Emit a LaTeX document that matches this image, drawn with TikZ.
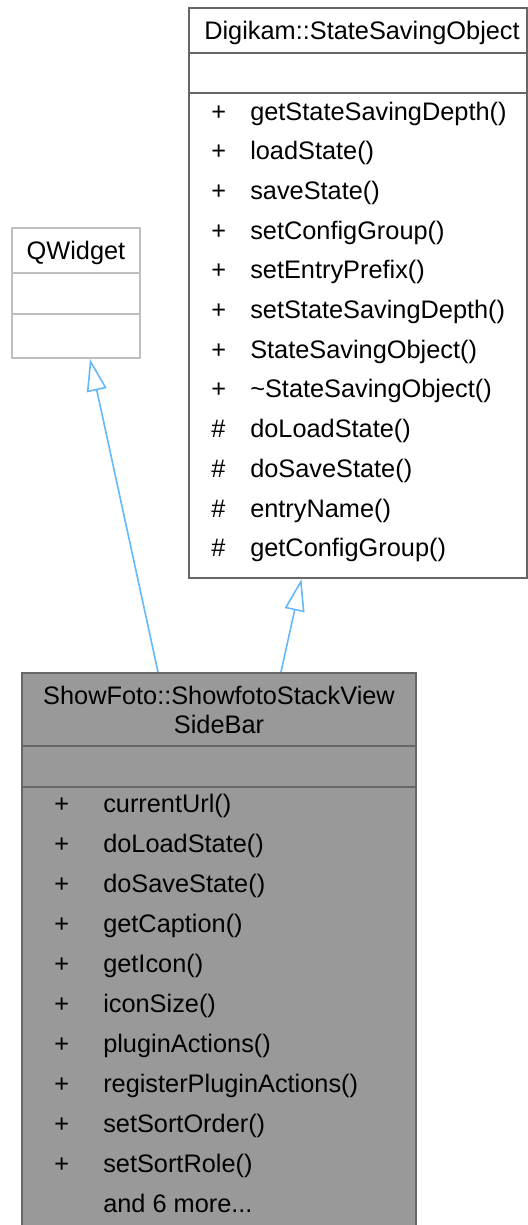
\documentclass[tikz,border=0pt]{standalone}
\usepackage{fontspec}
\setmainfont{Liberation Sans}
\usetikzlibrary{arrows.meta}
\definecolor{edgeblue}{HTML}{63B8FF}
\definecolor{boxgray}{HTML}{666666}
\definecolor{lightborder}{HTML}{BFBFBF}
\definecolor{fillgray}{HTML}{999999}
\begin{document}
\begin{tikzpicture}[x=0.75pt,y=-0.75pt,
  txt/.style={inner sep=0pt,anchor=base west,font=\fontsize{19}{22}\selectfont},
  ttl/.style={inner sep=0pt,anchor=base,font=\fontsize{19}{22}\selectfont,align=center},
  umlbox/.style={draw=boxgray,line width=1.5pt,inner sep=0pt,fill=white},
  inherit/.style={draw=edgeblue,line width=1.2pt,-{Triangle[open,length=24pt,width=15pt,line width=1.2pt]}}
]
\useasboundingbox (0,0) rectangle (528,1225);
% Digikam::StateSavingObject
\node[umlbox,minimum width=253.5pt,minimum height=427.5pt] (dk) at (358,293) {};
\draw[boxgray,line width=1.5pt] (dk.west |- 0,53) -- (dk.east |- 0,53);
\draw[boxgray,line width=1.5pt] (dk.west |- 0,93) -- (dk.east |- 0,93);
\node[ttl] (dkt) at (362,39) {Digikam::StateSavingObject};
\foreach \s/\n [count=\i from 0] in {+/getStateSavingDepth(),+/loadState(),+/saveState(),+/setConfigGroup(),+/setEntryPrefix(),+/setStateSavingDepth(),+/StateSavingObject(),+/\textasciitilde StateSavingObject(),\#/doLoadState(),\#/doSaveState(),\#/entryName(),\#/getConfigGroup()}{
  \node[txt] (dks\i) at (211,{120+39.7*\i}) {\s};
  \node[txt] (dkm\i) at (250,{120+39.7*\i}) {\n};
}
% QWidget
\node[draw=lightborder,line width=1.5pt,inner sep=0pt,minimum width=96pt,minimum height=97.5pt] (qw) at (76,293) {};
\draw[lightborder,line width=1.5pt] (qw.west |- 0,273) -- (qw.east |- 0,273);
\draw[lightborder,line width=1.5pt] (qw.west |- 0,314) -- (qw.east |- 0,314);
\node[ttl] (qwt) at (76,259) {QWidget};
% ShowFoto::ShowfotoStackViewSideBar
\node[draw=boxgray,fill=fillgray,line width=1.5pt,inner sep=0pt,minimum width=295.5pt,minimum height=421.5pt] (sf) at (219,954) {};
\draw[boxgray,line width=1.5pt] (sf.west |- 0,746) -- (sf.east |- 0,746);
\draw[boxgray,line width=1.5pt] (sf.west |- 0,787) -- (sf.east |- 0,787);
\node[ttl] (sft1) at (219,704) {ShowFoto::ShowfotoStackView};
\node[ttl] (sft2) at (219,733) {SideBar};
\foreach \n [count=\i from 0] in {currentUrl(),doLoadState(),doSaveState(),getCaption(),getIcon(),iconSize(),pluginActions(),registerPluginActions(),setSortOrder(),setSortRole()}{
  \node[txt] (sfs\i) at (54,{812+40*\i}) {+};
  \node[txt] (sfm\i) at (103,{812+40*\i}) {\n};
}
\node[txt] (sfmore) at (103,1212) {and 6 more...};
% inheritance edges
\draw[inherit] ([xshift=-45.75pt]sf.north) -- ([xshift=10.5pt]qw.south);
\draw[inherit] ([xshift=46.5pt]sf.north) -- ([xshift=-42.4pt]dk.south);
\end{tikzpicture}
\end{document}
